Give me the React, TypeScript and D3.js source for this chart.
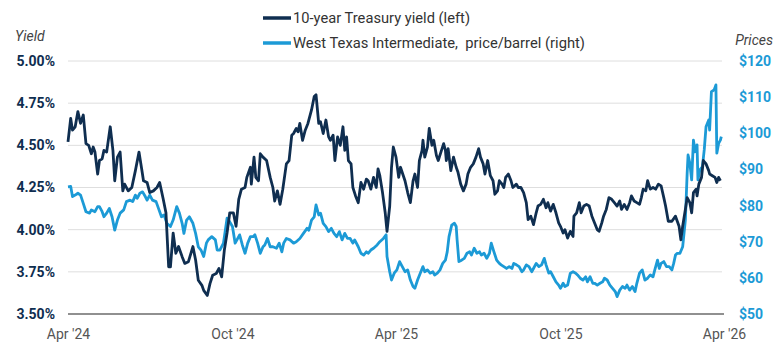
import React, { useEffect, useRef } from 'react';
import * as d3 from 'd3';

// Days are counted from 1 Apr 2024.
const START = new Date(2024, 3, 1);
const END = new Date(2026, 3, 1);

// [day, 10-year Treasury yield %]
const treasuryYield: [number, number][] = [
  [0, 4.52], [3, 4.66], [5, 4.59], [8, 4.61], [11, 4.70], [14, 4.63], [17, 4.68], [20, 4.51], [23, 4.50], [26, 4.45],
  [28, 4.49], [30, 4.46], [33, 4.33], [35, 4.41], [38, 4.42], [40, 4.47], [43, 4.46], [47, 4.61], [50, 4.47], [52, 4.29],
  [55, 4.43], [58, 4.46], [61, 4.23], [63, 4.27], [67, 4.23], [71, 4.25], [75, 4.35], [79, 4.46], [82, 4.36], [84, 4.29],
  [88, 4.28], [91, 4.22], [95, 4.23], [99, 4.25], [102, 4.28], [106, 4.18], [109, 4.10], [112, 3.78], [114, 3.78], [117, 3.98],
  [120, 3.86], [123, 3.90], [127, 3.84], [130, 3.80], [134, 3.81], [139, 3.90], [142, 3.82], [145, 3.70], [149, 3.67], [151, 3.64],
  [155, 3.61], [158, 3.68], [161, 3.73], [165, 3.74], [168, 3.77], [171, 3.72], [174, 3.88], [177, 3.98], [180, 4.10], [184, 4.10],
  [187, 4.02], [190, 4.18], [193, 4.24], [197, 4.25], [199, 4.31], [203, 4.37], [204, 4.27], [207, 4.43], [209, 4.31], [212, 4.29],
  [214, 4.45], [217, 4.43], [221, 4.41], [225, 4.31], [228, 4.25], [230, 4.17], [233, 4.23], [236, 4.15], [239, 4.24], [243, 4.39],
  [246, 4.41], [249, 4.56], [251, 4.57], [254, 4.60], [256, 4.58], [258, 4.63], [261, 4.53], [264, 4.59], [267, 4.63], [271, 4.71],
  [274, 4.79], [276, 4.80], [279, 4.63], [281, 4.64], [284, 4.57], [287, 4.65], [290, 4.55], [292, 4.53], [295, 4.56], [297, 4.41],
  [300, 4.55], [303, 4.50], [306, 4.61], [308, 4.47], [310, 4.55], [312, 4.41], [315, 4.39], [317, 4.25], [320, 4.20], [323, 4.16],
  [326, 4.28], [329, 4.24], [332, 4.30], [334, 4.29], [337, 4.24], [340, 4.31], [343, 4.25], [345, 4.36], [347, 4.32], [350, 4.22],
  [353, 4.10], [355, 3.99], [358, 4.14], [360, 4.37], [362, 4.49], [365, 4.43], [368, 4.31], [370, 4.37], [375, 4.29], [378, 4.22],
  [381, 4.16], [384, 4.29], [386, 4.33], [389, 4.25], [391, 4.41], [394, 4.47], [395, 4.53], [397, 4.43], [400, 4.49], [402, 4.60],
  [405, 4.50], [407, 4.53], [410, 4.44], [412, 4.41], [415, 4.46], [418, 4.51], [420, 4.47], [421, 4.41], [423, 4.48], [426, 4.35],
  [429, 4.43], [432, 4.37], [434, 4.34], [437, 4.27], [440, 4.23], [443, 4.27], [445, 4.33], [448, 4.37], [451, 4.39], [454, 4.43],
  [457, 4.48], [459, 4.43], [462, 4.39], [464, 4.33], [467, 4.41], [470, 4.32], [473, 4.29], [475, 4.21], [478, 4.23], [480, 4.29],
  [483, 4.27], [485, 4.25], [487, 4.31], [490, 4.33], [493, 4.29], [495, 4.25], [499, 4.27], [501, 4.25], [504, 4.25], [507, 4.22],
  [510, 4.16], [512, 4.06], [515, 4.08], [518, 4.03], [521, 4.10], [523, 4.14], [526, 4.15], [529, 4.18], [532, 4.13], [534, 4.16],
  [537, 4.11], [540, 4.15], [543, 4.10], [546, 4.04], [548, 4.02], [551, 3.98], [553, 4.00], [556, 3.95], [559, 3.99], [562, 3.96],
  [563, 4.08], [566, 4.10], [569, 4.16], [571, 4.10], [574, 4.14], [577, 4.15], [580, 4.14], [583, 4.08], [586, 4.04], [589, 4.00],
  [591, 3.99], [594, 4.04], [596, 4.08], [599, 4.12], [602, 4.19], [605, 4.18], [608, 4.16], [611, 4.14], [614, 4.17], [616, 4.12],
  [619, 4.15], [622, 4.12], [625, 4.16], [627, 4.20], [630, 4.17], [633, 4.16], [636, 4.15], [638, 4.19], [640, 4.24], [643, 4.23],
  [645, 4.29], [648, 4.24], [651, 4.25], [654, 4.24], [657, 4.27], [660, 4.26], [663, 4.19], [665, 4.14], [668, 4.05], [672, 4.05],
  [676, 4.08], [678, 4.05], [680, 4.02], [682, 3.94], [684, 4.02], [687, 4.12], [689, 4.19], [692, 4.16], [694, 4.10], [696, 4.22],
  [699, 4.24], [700, 4.20], [702, 4.27], [705, 4.31], [707, 4.41], [710, 4.39], [713, 4.35], [714, 4.33], [717, 4.32], [720, 4.31],
  [722, 4.28], [724, 4.31], [726, 4.29],
];

// [day, WTI $ per barrel]
const wtiPrice: [number, number][] = [
  [0, 85.2], [3, 85.3], [5, 82.5], [8, 82.9], [11, 83.4], [14, 82.9], [17, 80.6], [20, 78.3], [24, 77.9], [26, 78.8],
  [30, 78.3], [33, 79.7], [35, 79.7], [38, 78.3], [40, 76.9], [43, 77.9], [46, 79.2], [49, 76.9], [52, 73.2], [55, 76.0],
  [58, 77.9], [62, 78.8], [65, 81.1], [69, 81.5], [72, 81.1], [75, 82.9], [77, 82.0], [80, 83.4], [83, 83.8], [86, 82.5],
  [88, 81.5], [91, 82.9], [94, 81.5], [98, 81.1], [100, 79.7], [104, 76.9], [107, 77.4], [110, 75.1], [114, 74.2], [117, 76.0],
  [121, 79.7], [124, 77.9], [127, 75.1], [129, 72.3], [132, 76.0], [135, 76.9], [139, 75.1], [142, 72.3], [145, 68.6], [148, 67.7],
  [151, 65.9], [154, 69.6], [156, 70.5], [160, 71.4], [164, 70.5], [166, 67.7], [169, 67.7], [173, 69.6], [177, 76.5], [180, 75.5],
  [183, 74.2], [186, 69.6], [188, 70.5], [191, 71.9], [194, 69.1], [197, 66.8], [200, 69.6], [203, 71.4], [206, 71.4], [208, 71.9],
  [211, 69.6], [214, 66.8], [217, 68.6], [219, 69.1], [222, 70.9], [225, 68.6], [228, 68.6], [232, 68.2], [235, 69.6], [238, 67.2],
  [240, 69.6], [243, 70.9], [247, 70.5], [251, 69.6], [254, 70.0], [258, 70.9], [262, 72.3], [266, 73.7], [268, 73.2], [271, 76.0],
  [274, 76.9], [276, 80.2], [279, 77.4], [281, 77.9], [284, 75.1], [287, 74.2], [290, 72.8], [293, 73.7], [296, 72.3], [299, 71.4],
  [302, 72.8], [305, 70.5], [308, 72.3], [311, 70.9], [314, 70.9], [317, 69.6], [319, 70.5], [323, 68.6], [326, 66.8], [329, 66.3],
  [332, 67.2], [334, 66.8], [337, 67.7], [340, 68.2], [344, 69.1], [347, 70.0], [351, 70.9], [354, 71.9], [355, 65.9], [358, 61.7],
  [360, 59.4], [363, 61.3], [366, 62.2], [369, 64.5], [372, 63.1], [375, 61.7], [378, 62.2], [381, 59.4], [384, 57.6], [386, 57.1],
  [389, 59.4], [392, 61.3], [395, 63.1], [397, 61.7], [400, 62.2], [403, 61.3], [406, 61.7], [408, 60.8], [411, 61.3], [414, 62.2],
  [417, 64.0], [420, 64.9], [422, 67.2], [424, 71.4], [427, 74.6], [430, 75.1], [432, 74.2], [433, 70.5], [435, 64.5], [438, 64.9],
  [441, 65.4], [444, 66.8], [447, 67.2], [449, 66.3], [452, 68.2], [455, 66.8], [458, 67.2], [460, 66.3], [463, 66.8], [466, 65.4],
  [469, 66.8], [471, 69.6], [474, 67.2], [477, 64.9], [480, 64.0], [482, 63.6], [485, 63.1], [488, 62.6], [491, 63.1], [494, 62.6],
  [496, 64.0], [499, 63.6], [502, 63.1], [505, 61.7], [507, 62.2], [510, 63.6], [513, 63.1], [516, 61.7], [518, 62.6], [521, 64.0],
  [524, 63.1], [527, 63.6], [530, 65.4], [532, 63.6], [535, 61.3], [537, 61.7], [540, 60.3], [543, 58.9], [546, 58.0], [548, 57.1],
  [551, 58.5], [553, 57.6], [556, 58.0], [559, 61.3], [562, 61.7], [565, 61.3], [567, 60.8], [570, 59.9], [573, 59.4], [576, 60.3],
  [578, 58.9], [581, 60.3], [584, 58.5], [586, 58.5], [589, 58.0], [592, 58.5], [595, 58.9], [597, 59.9], [600, 59.4], [603, 58.0],
  [606, 57.1], [609, 56.2], [611, 54.8], [614, 56.6], [617, 57.6], [620, 57.1], [622, 58.0], [625, 56.6], [628, 57.6], [631, 56.2],
  [633, 58.5], [636, 61.3], [639, 62.2], [642, 59.4], [645, 59.9], [648, 60.8], [651, 60.3], [653, 62.2], [656, 64.9], [658, 62.6],
  [660, 64.0], [663, 64.5], [666, 63.1], [669, 63.1], [672, 62.2], [674, 64.0], [676, 66.3], [678, 66.8], [681, 66.8], [684, 68.6],
  [687, 76.0], [689, 88.9], [690, 94.0], [692, 91.7], [694, 87.1], [696, 98.1], [698, 94.9], [700, 96.8], [701, 87.1], [703, 89.8],
  [706, 90.8], [708, 95.4], [710, 101.8], [713, 103.7], [714, 100.9], [716, 111.5], [719, 112.0], [721, 113.4], [722, 94.5], [724, 97.2],
  [726, 98.1], [727, 99.1],
];

const yieldTicks = [3.5, 3.75, 4, 4.25, 4.5, 4.75, 5];
const priceTicks = [50, 60, 70, 80, 90, 100, 110, 120];
const dateTicks = [new Date(2024, 3, 1), new Date(2024, 9, 1), new Date(2025, 3, 1), new Date(2025, 9, 1), new Date(2026, 3, 1)];
const legendLabels = ['10-year Treasury yield (left)', 'West Texas Intermediate,  price/barrel (right)'];

const NAVY = '#0f2e50';
const BLUE = '#1c9ad6';

export default function App() {
  const svgRef = useRef<SVGSVGElement>(null);

  useEffect(() => {
    const width = 780;
    const height = 350;
    const margin = { top: 61, right: 56, bottom: 36, left: 68 };

    const svg = d3.select(svgRef.current).attr('width', width).attr('height', height);
    svg.selectAll('*').remove();

    const x = d3.scaleTime().domain([START, END]).range([margin.left, width - margin.right]);
    const yL = d3.scaleLinear().domain([3.5, 5]).range([height - margin.bottom, margin.top]);
    const yR = d3.scaleLinear().domain([50, 120]).range([height - margin.bottom, margin.top]);
    const day = (d: number) => x(d3.timeDay.offset(START, d));

    // Grid
    svg.append('g').selectAll('line').data(yieldTicks.slice(1)).join('line')
      .attr('x1', margin.left).attr('x2', width - margin.right - 2)
      .attr('y1', d => yL(d)).attr('y2', d => yL(d))
      .attr('stroke', '#dedede').attr('stroke-width', 1);

    svg.append('line')
      .attr('x1', margin.left).attr('x2', width - margin.right)
      .attr('y1', yL(3.5)).attr('y2', yL(3.5))
      .attr('stroke', '#909090').attr('stroke-width', 1.8);

    // Left axis
    const left = svg.append('g').attr('transform', `translate(${margin.left},0)`)
      .call(d3.axisLeft(yL).tickValues(yieldTicks).tickFormat(d => `${(+d).toFixed(2)}%`).tickSize(0).tickPadding(13));
    left.select('.domain').remove();
    left.selectAll('text').attr('fill', NAVY).attr('font-size', '14px').attr('font-weight', 700)
      .attr('font-family', 'Roboto, sans-serif');

    // Right axis
    const right = svg.append('g').attr('transform', `translate(${width - margin.right},0)`)
      .call(d3.axisRight(yR).tickValues(priceTicks).tickFormat(d => `$${d}`).tickSize(0).tickPadding(15));
    right.select('.domain').remove();
    right.selectAll('text').attr('fill', BLUE).attr('font-size', '14px').attr('font-weight', 700)
      .attr('font-family', 'Roboto, sans-serif');

    // Bottom axis
    const bottom = svg.append('g').attr('transform', `translate(0,${height - margin.bottom})`)
      .call(d3.axisBottom(x).tickValues(dateTicks).tickFormat(d3.timeFormat("%b '%y") as any).tickSize(0).tickPadding(15));
    bottom.select('.domain').remove();
    bottom.selectAll('text').attr('fill', '#555').attr('font-size', '14px').attr('font-family', 'Roboto, sans-serif');

    // Axis titles
    svg.append('text').attr('x', 15).attr('y', 41).text('Yield')
      .attr('font-style', 'italic').attr('font-size', '14px').attr('fill', '#444').attr('font-family', 'Roboto, sans-serif');
    svg.append('text').attr('x', 773).attr('y', 45).attr('text-anchor', 'end').text('Prices')
      .attr('font-style', 'italic').attr('font-size', '14px').attr('fill', '#444').attr('font-family', 'Roboto, sans-serif');

    // Lines
    const yieldLine = d3.line<[number, number]>().x(d => day(d[0])).y(d => yL(d[1]));
    const priceLine = d3.line<[number, number]>().x(d => day(d[0])).y(d => yR(d[1]));

    svg.append('path').datum(wtiPrice).attr('d', priceLine)
      .attr('fill', 'none').attr('stroke', BLUE).attr('stroke-width', 2.8).attr('stroke-linejoin', 'round');
    svg.append('path').datum(treasuryYield).attr('d', yieldLine)
      .attr('fill', 'none').attr('stroke', NAVY).attr('stroke-width', 2.8).attr('stroke-linejoin', 'round');

    // Legend
    const legendColors = [NAVY, BLUE];
    const legendWidths = [177, 292];
    legendLabels.forEach((label, i) => {
      const ly = 18 + i * 25;
      svg.append('line').attr('x1', 263).attr('x2', 291).attr('y1', ly).attr('y2', ly)
        .attr('stroke', legendColors[i]).attr('stroke-width', 3.5);
      svg.append('text').attr('x', 293).attr('y', ly).attr('dy', '0.35em').text(label)
        .attr('textLength', legendWidths[i]).attr('lengthAdjust', 'spacingAndGlyphs')
        .attr('font-size', '14.5px').attr('fill', '#333').attr('font-family', 'Roboto, sans-serif')
        .style('white-space', 'pre');
    });
  }, []);

  return (
    <svg ref={svgRef} style={{ position: 'absolute', left: 0, top: 0, display: 'block', background: '#fff' }} />
  );
}
